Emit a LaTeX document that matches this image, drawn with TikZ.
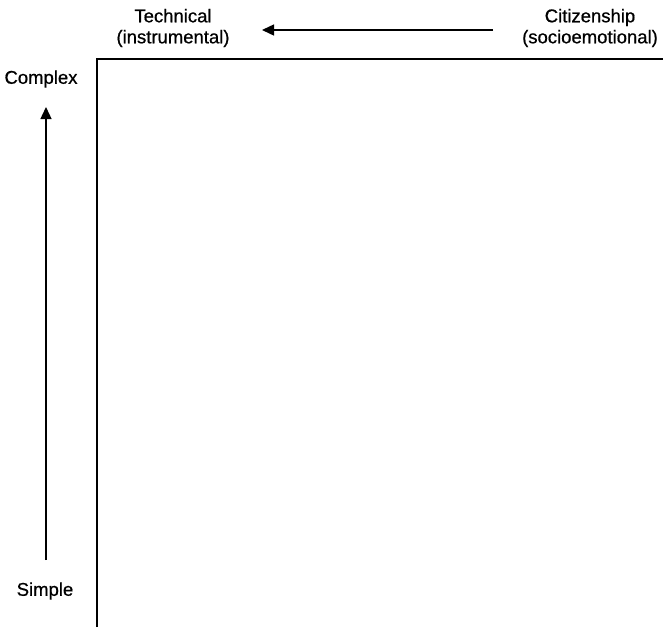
\documentclass[tikz,border=0pt]{standalone}
\usepackage{fontspec}
\setmainfont{Liberation Sans}
\newfontfamily\lblfont{Liberation Sans}[FakeBold=0.7]
\usetikzlibrary{arrows.meta}
\begin{document}
\begin{tikzpicture}[x=1pt,y=-1pt,
  lbl/.style={font=\lblfont\fontsize{18.5}{21}\selectfont\bfseries\mdseries, align=center, inner sep=0pt},
  axis/.style={line width=1.8pt},
  arr/.style={line width=1.4pt, -{Triangle[length=12pt,width=11pt]}}]
\useasboundingbox (0,0) rectangle (663,627);
\node[lbl] (tech) at (173,28) {Technical\\(instrumental)};
\node[lbl] (cit) at (590,28) {Citizenship\\(socioemotional)};
\node[lbl] (complex) at (41,79) {Complex};
\node[lbl] (simple) at (45,591) {Simple};
\coordinate (o) at (97,627);
\coordinate (tl) at (97,59);
\coordinate (tr) at (663,59);
\draw[axis] (o) -- (tl) -- (tr);
\coordinate (hs) at (493,30);
\coordinate (he) at (262,30);
\draw[arr] (hs) -- (he);
\coordinate (vs) at (46,560);
\coordinate (ve) at (46,107);
\draw[arr] (vs) -- (ve);
\end{tikzpicture}
\end{document}
